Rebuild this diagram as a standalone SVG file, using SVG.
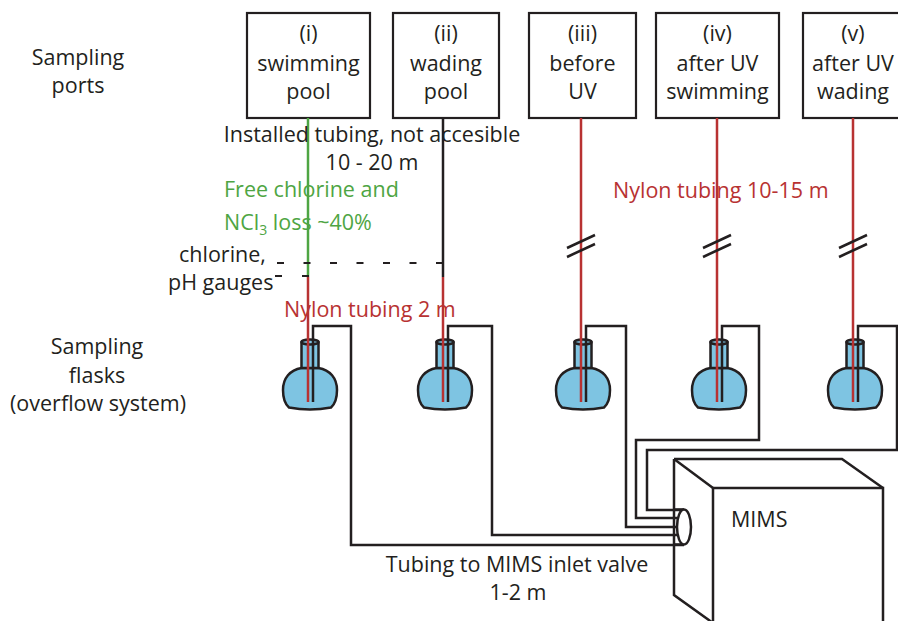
<svg xmlns="http://www.w3.org/2000/svg" xmlns:xlink="http://www.w3.org/1999/xlink" width="898" height="621" viewBox="0 0 898 621">
  <style>
    text { font-family: "Open Sans", "Liberation Sans", sans-serif; font-size: 21.5px; fill: #231f20; }
    .mid { text-anchor: middle; }
    .red { fill: #b83232; }
    .green { fill: #4ea543; }
    .box { fill: #ffffff; stroke: #231f20; stroke-width: 2.2; }
    .tube { fill: none; stroke: #231f20; stroke-width: 2.5; stroke-linejoin: miter; }
    .nylon { fill: none; stroke: #b83232; stroke-width: 2.5; }
    .inst { fill: none; stroke: #4ea543; stroke-width: 2.5; }
    .brk { fill: none; stroke: #231f20; stroke-width: 2.5; }
    .dash { fill: none; stroke: #231f20; stroke-width: 2; }
    .glass { fill: #7ec4e2; stroke: #231f20; stroke-width: 2.5; stroke-linejoin: round; }
    .mims { fill: none; stroke: #231f20; stroke-width: 2.5; stroke-linejoin: miter; }
  </style>
  <defs>
    <!-- round-bottom flask, origin at the centre of the neck rim -->
    <g id="flask">
      <path class="glass" d="M-8.5,26 C-20,28 -27,36 -27,48 C-27,56 -25,62 -21,65.5 C-8,68 8,68 21,65.5 C25,62 27,56 27,48 C27,36 20,28 8.5,26 Z"/>
      <path class="glass" d="M-8.5,0 V26 H8.5 V0 Z"/>
      <ellipse class="glass" cx="0" cy="0" rx="8.5" ry="2.5"/>
    </g>
  </defs>

  <rect width="898" height="621" fill="#ffffff"/>

  <!-- side labels -->
  <g id="labels">
    <text class="mid" x="78" y="65">Sampling</text>
    <text class="mid" x="78" y="93">ports</text>
    <text class="mid" x="97" y="354">Sampling</text>
    <text class="mid" x="97" y="383">flasks</text>
    <text class="mid" x="98" y="411">(overflow system)</text>
  </g>

  <!-- sampling ports -->
  <g id="port-i">
    <rect class="box" x="247" y="13" width="123" height="105"/>
    <text class="mid" x="308.5" y="41">(i)</text>
    <text class="mid" x="308.5" y="71">swimming</text>
    <text class="mid" x="308.5" y="99">pool</text>
  </g>
  <g id="port-ii">
    <rect class="box" x="393" y="13" width="106" height="105"/>
    <text class="mid" x="446" y="41">(ii)</text>
    <text class="mid" x="446" y="71">wading</text>
    <text class="mid" x="446" y="99">pool</text>
  </g>
  <g id="port-iii">
    <rect class="box" x="529" y="13" width="107" height="105"/>
    <text class="mid" x="582.5" y="41">(iii)</text>
    <text class="mid" x="582.5" y="71">before</text>
    <text class="mid" x="582.5" y="99">UV</text>
  </g>
  <g id="port-iv">
    <rect class="box" x="656" y="13" width="123" height="105"/>
    <text class="mid" x="717.5" y="41">(iv)</text>
    <text class="mid" x="717.5" y="71">after UV</text>
    <text class="mid" x="717.5" y="99">swimming</text>
  </g>
  <g id="port-v">
    <rect class="box" x="803" y="13" width="100" height="105"/>
    <text class="mid" x="853" y="41">(v)</text>
    <text class="mid" x="853" y="71">after UV</text>
    <text class="mid" x="853" y="99">wading</text>
  </g>

  <!-- sampling flasks -->
  <g id="flask-i"><use xlink:href="#flask" href="#flask" x="310" y="342"/></g>
  <g id="flask-ii"><use xlink:href="#flask" href="#flask" x="445" y="342"/></g>
  <g id="flask-iii"><use xlink:href="#flask" href="#flask" x="583" y="342"/></g>
  <g id="flask-iv"><use xlink:href="#flask" href="#flask" x="719" y="342"/></g>
  <g id="flask-v"><use xlink:href="#flask" href="#flask" x="855" y="342"/></g>

  <!-- MIMS instrument -->
  <g id="mims">
    <path class="mims" d="M674,459 H842 L883,488"/>
    <path class="mims" d="M674,459 L713,488"/>
    <path class="mims" d="M713,630 V488 H883 V630"/>
    <path class="mims" d="M674,459 V595 L713,623"/>
    <text x="731" y="527">MIMS</text>
  </g>

  <!-- connectors -->
  <g id="connectors">
    <!-- installed tubing from the pools -->
    <path class="inst" d="M308,118 V277"/>
    <path class="tube" d="M443,118 V277"/>
    <!-- gauge tapping points -->
    <path class="dash" d="M277,263 H443" stroke-dasharray="7 19.5"/>
    <path class="dash" d="M275,276 H309" stroke-dasharray="7 20"/>
    <!-- nylon tubing into the flasks -->
    <path class="nylon" d="M308,277 V402"/>
    <path class="nylon" d="M443,277 V402"/>
    <path class="nylon" d="M581,118 V402"/>
    <path class="nylon" d="M717,118 V402"/>
    <path class="nylon" d="M853,118 V402"/>
    <!-- break marks on long nylon runs -->
    <path class="brk" d="M567,248 L595,235 M567,257 L595,244"/>
    <path class="brk" d="M703,248 L731,235 M703,257 L731,244"/>
    <path class="brk" d="M839,248 L867,235 M839,257 L867,244"/>
    <!-- overflow tubing to the MIMS inlet -->
    <path class="tube" d="M313,402 V326 H351 V545 H684"/>
    <path class="tube" d="M448,402 V326 H492 V535 H684"/>
    <path class="tube" d="M586,402 V326 H626 V527 H684"/>
    <path class="tube" d="M722,402 V326 H759 V440 H636 V518 H684"/>
    <path class="tube" d="M858,402 V326 H897 V450 H647 V510 H684"/>
    <!-- inlet valve -->
    <path class="tube" d="M674,509.5 H684 M674,544.5 H684"/>
    <ellipse cx="684" cy="527" rx="7" ry="17.5" fill="#ffffff" stroke="#231f20" stroke-width="2.5"/>
  </g>

  <!-- annotations -->
  <g id="notes">
    <text class="mid" x="372" y="142">Installed tubing, not accesible</text>
    <text class="mid" x="372" y="170">10 - 20 m</text>
    <text class="green" x="224" y="197">Free chlorine and</text>
    <text class="green" x="224" y="230">NCl<tspan font-size="14" dy="5">3</tspan><tspan dy="-5"> loss ~40%</tspan></text>
    <text x="179" y="262">chlorine,</text>
    <text x="168" y="290">pH gauges</text>
    <text class="red" x="284" y="317">Nylon tubing 2 m</text>
    <text class="red" x="613" y="198">Nylon tubing 10-15 m</text>
    <text class="mid" x="517" y="572">Tubing to MIMS inlet valve</text>
    <text class="mid" x="518" y="600">1-2 m</text>
  </g>
</svg>
